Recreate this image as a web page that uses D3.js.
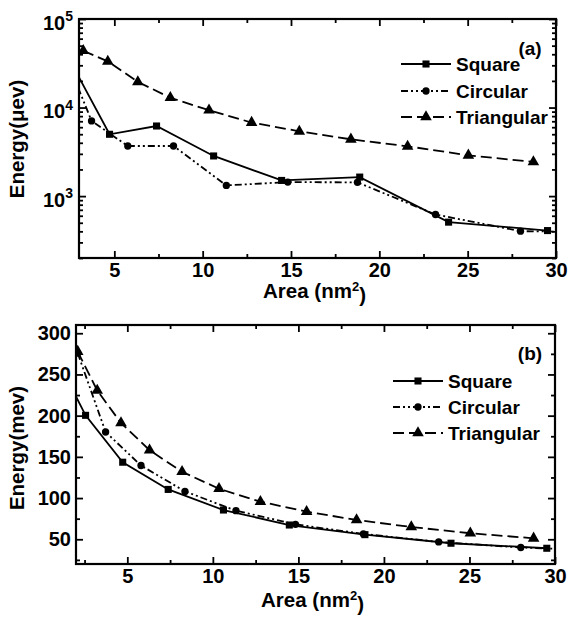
<!DOCTYPE html>
<html><head><meta charset="utf-8">
<script src="https://cdn.jsdelivr.net/npm/d3@7"></script>
<style>
body{margin:0;background:#fff}
text{font-family:"Liberation Sans",Arial,sans-serif;font-weight:bold;fill:#000}
</style>
</head><body><svg id="c" width="568" height="619"></svg>
<script>
const seriesNames = ["Square", "Circular", "Triangular"];
// Panel (a): energies in micro-eV (log axis)
const squareAreaA   = [2.56, 4.73, 7.39, 10.62, 14.47, 18.89, 23.92, 29.52];
const squareEnergyA = [31900, 4990, 6190, 2840, 1503, 1640, 508, 408];
const circleAreaA   = [2.1, 3.71, 5.76, 8.35, 11.34, 14.82, 18.76, 23.18, 27.99, 33.2];
const circleEnergyA = [44000, 7070, 3680, 3680, 1321, 1439, 1430, 620, 402, 390];
const triAreaA      = [3.24, 4.63, 6.33, 8.17, 10.36, 12.77, 15.47, 18.39, 21.6, 25.04, 28.72];
const triEnergyA    = [43800, 33200, 19500, 12900, 9330, 6770, 5390, 4380, 3650, 2890, 2430];
// Panel (b): energies in meV (linear axis)
const squareAreaB   = [1.1, 2.56, 4.73, 7.39, 10.62, 14.47, 18.89, 23.92, 29.52];
const squareEnergyB = [260, 200.4, 143.5, 110.5, 85.5, 67.3, 55.6, 45.2, 39.1];
const circleAreaB   = [2.1, 3.73, 5.8, 8.37, 11.35, 14.83, 18.8, 23.2, 28.0, 33.2];
const circleEnergyB = [275.8, 180.2, 139.5, 108.1, 84.7, 68.1, 56.5, 46.8, 40.0, 36.1];
const triAreaB      = [2.1, 3.24, 4.63, 6.3, 8.2, 10.36, 12.78, 15.48, 18.4, 21.6, 25.05, 28.75];
const triEnergyB    = [277.8, 230.6, 191.1, 158.1, 131.9, 111.3, 95.6, 83.5, 73.4, 64.9, 57.3, 51.2];
// Axes
const xDomainA = [3, 30], xDomainB = [2, 30];
const yDomainA = [200, 1e5], yDomainB = [20, 310];
const xTicks = [5, 10, 15, 20, 25, 30];
const xMinorStep = 2.5;
const yTicksA = [1e3, 1e4, 1e5];
const yTicksB = [50, 100, 150, 200, 250, 300];
const yMinorStepB = 25;
const panelLabels = ["(a)", "(b)"];
const yTitles = ["Energy(\u03bcev)", "Energy(mev)"];

const svg = d3.select("#c");
const styles = [
  {dash: null, marker: "square"},
  {dash: "7,3,2,3,2,3", marker: "circle"},
  {dash: "11,5", marker: "triangle"}
];
const TICK_FS = 20, TITLE_FS = 20.5, LEG_FS = 19;

function markerPath(type) {
  if (type === "square") return d3.symbol(d3.symbolSquare, 50)();
  if (type === "circle") return d3.symbol(d3.symbolCircle, 42)();
  return d3.symbol(d3.symbolTriangle, 58)();
}

function drawPanel(cfg) {
  const {box, id} = cfg;
  const g = svg.append("g");
  const x = d3.scaleLinear().domain(cfg.xDomain).range([box.l, box.r]);
  const y = cfg.log
    ? d3.scaleLog().domain(cfg.yDomain).range([box.b, box.t])
    : d3.scaleLinear().domain(cfg.yDomain).range([box.b, box.t]);

  g.append("clipPath").attr("id", "clip" + id).append("rect")
    .attr("x", box.l).attr("y", box.t).attr("width", box.r - box.l).attr("height", box.b - box.t);

  const xMinor = d3.range(Math.ceil(cfg.xDomain[0] / xMinorStep) * xMinorStep, cfg.xDomain[1] + 0.001, xMinorStep)
    .filter(v => !xTicks.includes(v));
  let yMinor;
  if (cfg.log) {
    yMinor = y.ticks().filter(v => !cfg.yTicks.includes(v));
  } else {
    yMinor = d3.range(Math.ceil(cfg.yDomain[0] / yMinorStepB) * yMinorStepB, cfg.yDomain[1] + 0.001, yMinorStepB)
      .filter(v => !cfg.yTicks.includes(v));
  }

  const axStyle = s => s.call(a => a.select(".domain").remove())
    .call(a => a.selectAll("line").attr("stroke", "#000").attr("stroke-width", 1.8));
  g.append("g").attr("transform", `translate(0,${box.b})`)
    .call(d3.axisBottom(x).tickValues(xMinor).tickSize(-4).tickFormat("")).call(axStyle);
  g.append("g").attr("transform", `translate(0,${box.t})`)
    .call(d3.axisTop(x).tickValues(xMinor).tickSize(-4).tickFormat("")).call(axStyle);
  g.append("g").attr("transform", `translate(${box.l},0)`)
    .call(d3.axisLeft(y).tickValues(yMinor).tickSize(-4).tickFormat("")).call(axStyle);
  g.append("g").attr("transform", `translate(${box.r},0)`)
    .call(d3.axisRight(y).tickValues(yMinor).tickSize(-4).tickFormat("")).call(axStyle);

  const fontStyle = a => a.selectAll("text").attr("font-size", TICK_FS).attr("font-family", '"Liberation Sans",Arial,sans-serif').attr("font-weight", "bold").attr("fill", "#000");
  g.append("g").attr("transform", `translate(0,${box.b})`)
    .call(d3.axisBottom(x).tickValues(xTicks).tickSize(-7).tickPadding(5).tickFormat(d3.format("d")))
    .call(axStyle).call(fontStyle);
  g.append("g").attr("transform", `translate(0,${box.t})`)
    .call(d3.axisTop(x).tickValues(xTicks).tickSize(-7).tickFormat("")).call(axStyle);
  const yl = g.append("g").attr("transform", `translate(${box.l},0)`)
    .call(d3.axisLeft(y).tickValues(cfg.yTicks).tickSize(-7).tickPadding(cfg.log ? 6 : 5)
      .tickFormat(cfg.log ? (d => String(Math.round(Math.log10(d)))) : d3.format("d")))
    .call(axStyle).call(fontStyle);
  if (cfg.log) {
    yl.selectAll("text").each(function() {
      const t = d3.select(this); const e = t.text();
      t.text(null).attr("dy", "0.5em");
      t.append("tspan").text("10");
      t.append("tspan").attr("dy", "-0.6em").attr("font-size", 14).text(e);
    });
  }
  g.append("g").attr("transform", `translate(${box.r},0)`)
    .call(d3.axisRight(y).tickValues(cfg.yTicks).tickSize(-7).tickFormat("")).call(axStyle);

  g.append("rect").attr("x", box.l).attr("y", box.t).attr("width", box.r - box.l).attr("height", box.b - box.t)
    .attr("fill", "none").attr("stroke", "#000").attr("stroke-width", 2.2);

  const plot = g.append("g").attr("clip-path", `url(#clip${id})`);
  const line = d3.line().x(d => x(d[0])).y(d => y(d[1]));
  cfg.series.forEach((s, i) => {
    const pts = s.area.map((a, k) => [a, s.energy[k]]);
    plot.append("path").datum(pts).attr("d", line).attr("fill", "none")
      .attr("stroke", "#000").attr("stroke-width", 1.8)
      .attr("stroke-dasharray", styles[i].dash);
    plot.selectAll(null).data(pts).join("path")
      .attr("d", markerPath(styles[i].marker))
      .attr("transform", d => `translate(${x(d[0])},${y(d[1])})`)
      .attr("fill", "#000");
  });

  seriesNames.forEach((n, i) => {
    const ly = cfg.legend.y[i];
    const lx = cfg.legend.x;
    g.append("line").attr("x1", lx).attr("x2", lx + 50).attr("y1", ly).attr("y2", ly)
      .attr("stroke", "#000").attr("stroke-width", 1.8).attr("stroke-dasharray", styles[i].dash);
    g.append("path").attr("d", markerPath(styles[i].marker))
      .attr("transform", `translate(${lx + 25},${ly})`).attr("fill", "#000");
    g.append("text").attr("x", lx + 55).attr("y", ly + 7).attr("font-size", LEG_FS).text(n);
  });

  g.append("text").attr("x", cfg.tag[0]).attr("y", cfg.tag[1]).attr("font-size", LEG_FS)
    .attr("text-anchor", "middle").text(cfg.tagText);

  const xt = g.append("text").attr("x", (box.l + box.r) / 2 - 3).attr("y", cfg.xTitleY)
    .attr("font-size", TITLE_FS).attr("text-anchor", "middle");
  xt.append("tspan").text("Area (nm");
  xt.append("tspan").attr("dy", "-0.55em").attr("font-size", 13).text("2");
  xt.append("tspan").attr("dy", "0.55em").text(")");
  g.append("text").attr("transform", `translate(24,${cfg.yTitleY}) rotate(-90)`)
    .attr("font-size", TITLE_FS).attr("text-anchor", "middle").text(cfg.yTitle);
}

drawPanel({
  id: "A", box: {l: 79, r: 556, t: 19, b: 258}, xDomain: xDomainA, yDomain: yDomainA, log: true,
  yTicks: yTicksA,
  series: [
    {area: squareAreaA, energy: squareEnergyA},
    {area: circleAreaA, energy: circleEnergyA},
    {area: triAreaA, energy: triEnergyA}
  ],
  legend: {x: 401, y: [64, 91, 117]}, tag: [530, 55], tagText: panelLabels[0],
  xTitleY: 298, yTitle: yTitles[0], yTitleY: 139
});
drawPanel({
  id: "B", box: {l: 76, r: 555, t: 325, b: 564}, xDomain: xDomainB, yDomain: yDomainB, log: false,
  yTicks: yTicksB,
  series: [
    {area: squareAreaB, energy: squareEnergyB},
    {area: circleAreaB, energy: circleEnergyB},
    {area: triAreaB, energy: triEnergyB}
  ],
  legend: {x: 393, y: [381, 407, 433]}, tag: [530, 360], tagText: panelLabels[1],
  xTitleY: 607, yTitle: yTitles[1], yTitleY: 448
});
</script>
</body></html>
